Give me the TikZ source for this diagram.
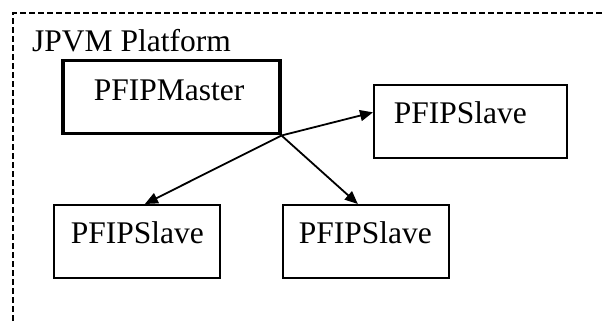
\documentclass[tikz,border=0pt]{standalone}
\usepackage{fontspec}
\setmainfont{Liberation Serif}
\usetikzlibrary{arrows.meta}
\tikzset{
  boxstyle/.style={draw, line width=1.7pt, rectangle, anchor=north west, align=left, inner ysep=0pt,
    font=\fontsize{31.5}{36}\selectfont},
  masterbox/.style={boxstyle, line width=3.5pt},
  conn/.style={line width=1.8pt, -{Triangle[length=13pt,width=11pt]}},
  border/.style={line width=2pt, dash pattern=on 6pt off 3pt}
}
\begin{document}
\begin{tikzpicture}[x=1pt,y=-1pt]
\clip (0,0) rectangle (604,323);
\fill[white] (0,0) rectangle (604,323);
\draw[border] (13,330) -- (13,13) -- (620,13);
\node[anchor=base west, inner sep=0pt, font=\fontsize{31.5}{36}\selectfont] (title) at (32,52) {JPVM Platform};
\node[masterbox, inner xsep=31pt, text width=155pt, text height=40pt, text depth=33pt] (master) at (61,59) {PFIPMaster};
\node[boxstyle, inner xsep=20pt, text width=153pt, text height=39pt, text depth=34pt] (s1) at (373,84) {PFIPSlave};
\node[boxstyle, inner xsep=17pt, text width=132pt, text height=39pt, text depth=34pt] (s2) at (53,204) {PFIPSlave};
\node[boxstyle, inner xsep=16pt, text width=134pt, text height=39pt, text depth=34pt] (s3) at (282,204) {PFIPSlave};
\draw[conn] (master.south east) -- ([yshift=9pt]s1.west);
\draw[conn] (master.south east) -- ([xshift=8pt]s2.north);
\draw[conn] (master.south east) -- ([xshift=-8pt]s3.north);
\end{tikzpicture}
\end{document}
